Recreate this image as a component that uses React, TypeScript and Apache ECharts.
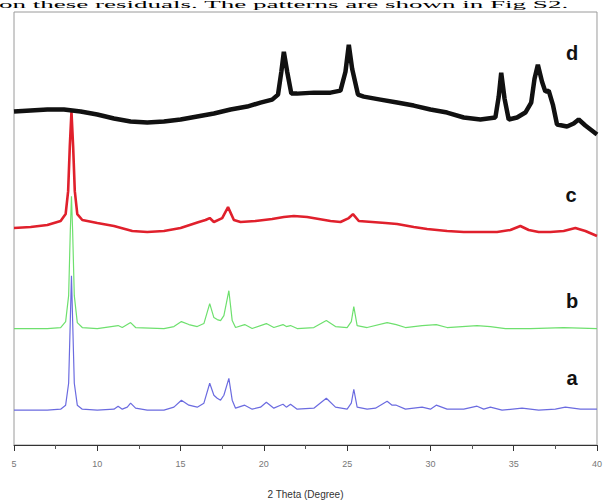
import React, { useEffect, useRef } from "react";
import * as echarts from "echarts";

const xTicks = { min: 5, max: 40, interval: 5 };
const headerText = "on these residuals. The patterns are shown in Fig S2.";
const axisTitle = "2 Theta (Degree)";
const traceLabels = ["a", "b", "c", "d"];

// [2θ (deg), intensity offset (a.u.)]
const traceA: [number, number][] = [[5,35],[6,35],[7,35],[7.8,36],[8.1,40],[8.28,62],[8.38,125],[8.45,170],[8.52,125],[8.62,62],[8.8,40],[9.1,36],[10,35],[11,36],[11.25,39],[11.5,36],[11.8,38],[12.0,42],[12.3,37],[13,35],[14,35],[14.6,38],[15.05,45],[15.5,40],[16.0,38],[16.4,42],[16.75,62],[17.0,50],[17.2,47],[17.4,45],[17.6,50],[17.9,67],[18.1,45],[18.3,37],[18.85,40],[19.3,36],[19.8,38],[20.15,43],[20.6,37],[21.0,40],[21.15,41],[21.35,38],[21.6,41],[22,36],[23,37],[23.75,47],[24.3,38],[25.0,36],[25.25,42],[25.4,56],[25.6,38],[26.2,36],[26.7,37],[27.4,44],[27.7,40],[27.95,40],[28.5,36],[29.5,38],[30.0,36],[30.35,40],[31,36],[32,36],[32.8,39],[33.2,36],[33.6,38],[34.3,35],[35.5,37],[36.5,35],[37.5,36],[38.1,38],[39,36],[40,36]];
const traceB: [number, number][] = [[5,117],[7,117],[7.8,118],[8.1,124],[8.28,150],[8.38,215],[8.45,250],[8.52,215],[8.62,150],[8.8,123],[9.1,118],[10,117],[11.25,120],[11.5,118],[12.0,123],[12.3,118],[14,117],[14.6,119],[15.05,124],[15.5,121],[16.0,119],[16.4,122],[16.75,142],[17.0,128],[17.2,126],[17.4,125],[17.6,130],[17.9,155],[18.1,125],[18.3,118],[18.85,121],[19.3,117],[20.15,122],[20.6,118],[21.15,121],[21.35,119],[21.6,120],[22,117],[23,118],[23.75,125],[24.3,119],[25.0,118],[25.25,124],[25.4,139],[25.6,120],[26.2,118],[27.4,123],[27.95,121],[28.5,118],[29.5,120],[30.35,121],[31,118],[32.8,120],[33.6,119],[34.5,117],[36,117],[38,118],[40,117]];
const traceC: [number, number][] = [[5,218],[6,219],[7,221],[7.8,225],[8.1,232],[8.25,255],[8.35,300],[8.45,335],[8.55,300],[8.65,255],[8.8,232],[9.1,226],[10,223],[11,220],[12.1,215],[13,214],[14,215],[15,218],[16.1,224],[16.5,226],[16.75,228],[17.0,224],[17.5,228],[17.85,239],[18.2,226],[18.6,224],[19.5,225],[20.5,227],[21.2,229],[21.8,230],[22.6,229],[23.3,227],[24.0,225],[24.6,224],[25.1,228],[25.35,232],[25.7,225],[26.5,224],[27.3,223],[28.0,222],[29,219],[29.8,217],[31,215],[32,214],[33,214],[34,214],[34.8,216],[35.4,220],[35.9,216],[36.5,214],[37.2,214],[38,215],[38.7,218],[39.3,215],[40,210]];
const traceD: [number, number][] = [[5,335],[6,336],[7,337],[8,337],[9,335],[10,332],[11,328],[12,325],[13,324],[14,325],[15,327],[16,330],[17,333],[18,337],[19,340],[19.8,344],[20.5,347],[20.85,352],[21.05,375],[21.2,395],[21.4,375],[21.65,353],[22,353],[23,354],[24,354],[24.6,356],[24.9,375],[25.1,402],[25.3,378],[25.65,352],[26,350],[27,347],[28,344],[29,341],[30,337],[31,334],[32,329],[33,327],[33.9,329],[34.1,350],[34.25,374],[34.45,348],[34.7,327],[35.2,329],[35.7,334],[36.05,344],[36.25,368],[36.45,382],[36.7,365],[36.9,355],[37.1,356],[37.35,342],[37.6,322],[38.2,320],[38.6,323],[38.9,327],[39.3,321],[40,312]];

export default function App() {
  const ref = useRef<HTMLDivElement>(null);
  useEffect(() => {
    if (!ref.current) return;
    const chart = echarts.init(ref.current, undefined, { renderer: "svg" });
    const labelStyle = { fontFamily: "Liberation Sans, Arial", fontWeight: "bold", fontSize: 20, fill: "#111", textAlign: "center", textVerticalAlign: "middle" };
    const labelPos = [[572, 378], [572, 301], [571, 195], [572, 53]];
    chart.setOption({
      animation: false,
      backgroundColor: "#fff",
      grid: { left: 14, right: 7, top: 12, bottom: 57, show: true, borderColor: "#9a9a9a", borderWidth: 1 },
      xAxis: {
        type: "value",
        min: xTicks.min,
        max: xTicks.max,
        interval: xTicks.interval,
        name: axisTitle,
        nameLocation: "middle",
        nameGap: 44,
        nameTextStyle: { fontFamily: "Liberation Sans, Arial", fontSize: 10, color: "#333" },
        axisLine: { lineStyle: { color: "#333", width: 1 } },
        axisTick: { show: true, length: 6, lineStyle: { color: "#333" } },
        minorTick: { show: true, splitNumber: 2, length: 4, lineStyle: { color: "#555" } },
        axisLabel: { fontFamily: "Liberation Sans, Arial", fontSize: 9, color: "#777", margin: 14 },
        splitLine: { show: false },
      },
      yAxis: { type: "value", min: 0, max: 435, show: false },
      graphic: [
        { type: "text", x: -1, y: 0, scaleX: 1.04, scaleY: 0.38, style: { text: headerText, font: "26px 'Liberation Serif', serif", fill: "#000", textVerticalAlign: "top" } },
        ...traceLabels.map((t, i) => ({ type: "text", x: labelPos[i][0], y: labelPos[i][1], style: { ...labelStyle, text: t } })),
      ],
      series: [
        { type: "line", data: traceA, showSymbol: false, lineStyle: { color: "#6b6be0", width: 1.2 }, z: 2 },
        { type: "line", data: traceB, showSymbol: false, lineStyle: { color: "#6ee06e", width: 1.2 }, z: 3 },
        { type: "line", data: traceC, showSymbol: false, lineStyle: { color: "#e0202c", width: 2.6 }, z: 4 },
        { type: "line", data: traceD, showSymbol: false, lineStyle: { color: "#111", width: 4.5 }, z: 5 },
      ],
    });
    return () => chart.dispose();
  }, []);
  return <div ref={ref} style={{ position: "fixed", left: 0, top: 0, width: 605, height: 504 }} />;
}
